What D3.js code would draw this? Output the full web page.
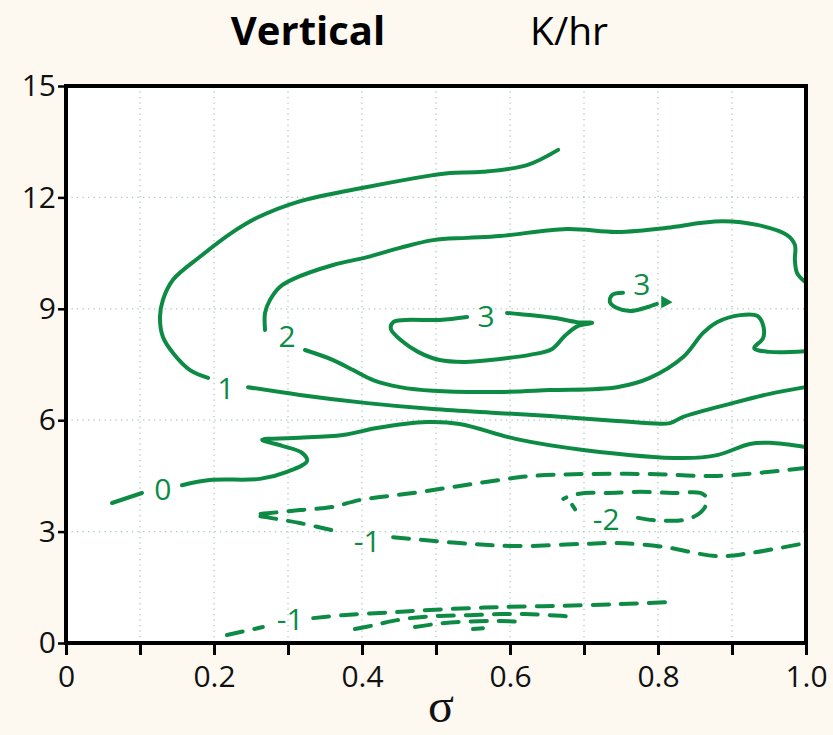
<!DOCTYPE html>
<html>
<head>
<meta charset="utf-8">
<script src="https://cdn.jsdelivr.net/npm/d3@7"></script>
<style>
  html, body { margin: 0; padding: 0; background: #fdf8f0; }
  svg { display: block; }
</style>
</head>
<body>
<svg id="chart" width="833" height="735"></svg>
<script>
// Axis ticks
const sigmaTicks = d3.range(11).map(i => i / 10);
const sigmaLabels = ["0", "", "0.2", "", "0.4", "", "0.6", "", "0.8", "", "1.0"];
const heightTicks = [0, 3, 6, 9, 12, 15];

// Contour lines, [sigma, height] pairs, split where a label interrupts the line
const contourOne = [
  [[0.665,13.28],[0.623,12.87],[0.5635,12.69],[0.519,12.66],[0.496,12.60],[0.407,12.28],
   [0.3135,11.88],[0.258,11.45],[0.2257,11.07],[0.181,10.40],[0.1446,9.78],[0.131,9.24],
   [0.127,8.78],[0.131,8.24],[0.1446,7.81],[0.1676,7.35],[0.192,7.14]],
  [[0.246,6.89],[0.316,6.68],[0.407,6.46],[0.496,6.30],[0.5865,6.19],[0.654,6.11],
   [0.7446,5.98],[0.789,5.92],[0.816,5.92],[0.834,6.09],[0.901,6.46],[0.951,6.71],[0.999,6.89]]
];
const contourTwo = [
  [[0.999,9.72],[0.988,9.96],[0.985,10.31],[0.985,10.72],[0.974,10.99],[0.934,11.26],
   [0.888,11.36],[0.857,11.31],[0.812,11.18],[0.7446,11.07],[0.677,11.15],[0.5865,10.96],
   [0.542,10.91],[0.496,10.85],[0.4514,10.64],[0.407,10.39],[0.361,10.18],[0.3068,9.80],
   [0.289,9.59],[0.2757,9.24],[0.269,8.89],[0.269,8.43]],
  [[0.323,7.89],[0.361,7.62],[0.388,7.35],[0.415,7.08],[0.4514,6.89],[0.496,6.79],
   [0.5865,6.76],[0.654,6.81],[0.7446,6.89],[0.789,7.14],[0.834,7.70],[0.861,8.35],
   [0.8797,8.64],[0.911,8.83],[0.934,8.81],[0.942,8.56],[0.942,8.21],[0.930,7.94],
   [0.951,7.84],[0.999,7.86]]
];
const contourThree = [
  [[0.596,8.89],[0.627,8.83],[0.661,8.75],[0.6905,8.64],[0.711,8.62],[0.692,8.54],
   [0.674,8.27],[0.657,7.92],[0.627,7.76],[0.5865,7.65],[0.539,7.57],[0.505,7.62],
   [0.4757,7.84],[0.454,8.13],[0.439,8.46],[0.442,8.64],[0.458,8.70],[0.505,8.70],[0.542,8.78]],
  [[0.7527,9.43],[0.738,9.37],[0.735,9.18],[0.7446,9.02],[0.762,8.94],[0.782,9.02],[0.7986,9.13]]
];
const contourThreeTip = [[0.8054,9.32],[0.8176,9.18],[0.8054,9.05]];
const contourZero = [
  [[0.0622,3.77],[0.1027,4.04]],
  [[0.1568,4.25],[0.1946,4.39],[0.262,4.42],[0.2986,4.61],[0.3257,4.90],[0.319,5.12],
   [0.292,5.31],[0.265,5.47],[0.307,5.52],[0.374,5.60],[0.420,5.79],[0.488,5.95],
   [0.532,5.90],[0.609,5.49],[0.699,5.20],[0.834,4.98],[0.880,5.06],[0.924,5.36],
   [0.951,5.39],[0.999,5.28]]
];
const contourMinusOne = [
  [[0.999,4.71],[0.880,4.50],[0.789,4.55],[0.699,4.55],[0.631,4.50],[0.5865,4.39],
   [0.532,4.23],[0.469,4.04],[0.397,3.85],[0.359,3.66],[0.316,3.58],[0.276,3.50],
   [0.255,3.45],[0.276,3.37],[0.316,3.23],[0.370,2.99]],
  [[0.442,2.85],[0.532,2.69],[0.609,2.61],[0.699,2.67],[0.7446,2.69],[0.807,2.59],
   [0.880,2.34],[0.924,2.42],[0.999,2.69]]
];
const contourMinusTwo = [
  [[0.773,3.37],[0.793,3.31],[0.812,3.29],[0.834,3.31],[0.853,3.45],[0.8635,3.66],
   [0.866,3.90],[0.857,4.04],[0.820,4.04],[0.7757,4.07],[0.731,4.04],[0.701,4.04],
   [0.681,3.96],[0.672,3.88]],
  [[0.684,3.72],[0.688,3.60]]
];
const contourLowMinusOne = [
  [[0.2176,0.215],[0.266,0.43]],
  [[0.334,0.67],[0.374,0.75],[0.442,0.83],[0.492,0.89],[0.546,0.94],[0.5905,0.97],
   [0.6676,1.00],[0.749,1.05],[0.8135,1.10]]
];
const contourLowMinusTwo = [
  [[0.3905,0.377],[0.4176,0.485],[0.4405,0.59],[0.465,0.67],[0.505,0.73],[0.546,0.75],
   [0.5865,0.78],[0.620,0.78],[0.654,0.75],[0.6905,0.70]]
];
const contourLowMinusThree = [
  [[0.4716,0.43],[0.505,0.525],[0.546,0.58],[0.5865,0.59],[0.620,0.565]]
];
const contourLowMinusFour = [
  [[0.55,0.377],[0.5635,0.40]]
];

const contourLevels = [1, 2, 3, 0, -1, -2, -1, -2, -3, -4];
const contourSegments = [contourOne, contourTwo, contourThree, contourZero, contourMinusOne,
  contourMinusTwo, contourLowMinusOne, contourLowMinusTwo, contourLowMinusThree, contourLowMinusFour];

// Inline contour labels
const labelText = ["1", "2", "3", "3", "0", "-1", "-2", "-1"];
const labelSigma = [0.216, 0.2986, 0.5676, 0.778, 0.131, 0.407, 0.730, 0.303];
const labelHeight = [6.89, 8.27, 8.81, 9.67, 4.15, 2.75, 3.34, 0.67];

const green = "#0d8b45";
const svg = d3.select("#chart");
const margin = { left: 66, right: 27, top: 86, bottom: 92 };
const W = 833, H = 735;

const x = d3.scaleLinear().domain([0, 1]).range([margin.left, W - margin.right]);
const y = d3.scaleLinear().domain([0, 15]).range([H - margin.bottom, margin.top]);

// Plot background
svg.append("rect")
  .attr("x", x(0)).attr("y", y(15))
  .attr("width", x(1) - x(0)).attr("height", y(0) - y(15))
  .attr("fill", "#ffffff");

// Dotted grid
const grid = svg.append("g").attr("stroke", "#a9c9bb").attr("stroke-width", 1.3)
  .attr("stroke-dasharray", "1.3,4.2");
grid.selectAll("line.v").data(sigmaTicks.filter(d => d > 0 && d < 1)).join("line")
  .attr("class", "v")
  .attr("x1", d => x(d)).attr("x2", d => x(d))
  .attr("y1", y(15)).attr("y2", y(0));
grid.selectAll("line.h").data(heightTicks.filter(d => d > 0 && d < 15)).join("line")
  .attr("class", "h")
  .attr("x1", x(0)).attr("x2", x(1))
  .attr("y1", d => y(d)).attr("y2", d => y(d));

// Contours
const line = d3.line()
  .x(d => x(d[0])).y(d => y(d[1]))
  .curve(d3.curveCatmullRom.alpha(0.5));

const cg = svg.append("g").attr("fill", "none").attr("stroke", green)
  .attr("stroke-width", 4).attr("stroke-linecap", "round").attr("stroke-linejoin", "round");

contourSegments.forEach((segs, i) => {
  const level = contourLevels[i];
  segs.forEach(seg => {
    cg.append("path")
      .attr("d", line(seg))
      .attr("stroke-dasharray", level < 0 ? "16,12" : null);
  });
});

svg.append("path")
  .attr("d", d3.line().x(d => x(d[0])).y(d => y(d[1])).curve(d3.curveLinearClosed)(contourThreeTip))
  .attr("fill", green).attr("stroke", green).attr("stroke-width", 1.5);

svg.append("g").selectAll("text").data(labelText).join("text")
  .attr("x", (d, i) => x(labelSigma[i]))
  .attr("y", (d, i) => y(labelHeight[i]))
  .attr("text-anchor", "middle")
  .attr("dominant-baseline", "central")
  .attr("font-family", "'Open Sans', 'Noto Sans', sans-serif")
  .attr("font-size", 30)
  .attr("fill", green)
  .text(d => d);

// Frame
svg.append("rect")
  .attr("x", x(0)).attr("y", y(15))
  .attr("width", x(1) - x(0)).attr("height", y(0) - y(15))
  .attr("fill", "none").attr("stroke", "#000").attr("stroke-width", 4);

// Axes
const tickFont = "'Open Sans', 'Noto Sans', sans-serif";
const xAxis = svg.append("g")
  .attr("transform", `translate(0,${y(0)})`)
  .call(d3.axisBottom(x).tickValues(sigmaTicks).tickSize(12)
    .tickFormat((d, i) => sigmaLabels[i]));
xAxis.select(".domain").remove();
xAxis.selectAll(".tick line").attr("stroke", "#000").attr("stroke-width", 3);
xAxis.selectAll(".tick text")
  .attr("y", 23).attr("dy", "0.71em")
  .attr("font-family", tickFont).attr("font-size", 30).attr("fill", "#111");

const yAxis = svg.append("g")
  .attr("transform", `translate(${x(0)},0)`)
  .call(d3.axisLeft(y).tickValues(heightTicks).tickSize(8).tickPadding(2));
yAxis.select(".domain").remove();
yAxis.selectAll(".tick line").attr("stroke", "#000").attr("stroke-width", 2.5);
yAxis.selectAll(".tick text")
  .attr("font-family", tickFont).attr("font-size", 30).attr("fill", "#111");

// Axis title
svg.append("text")
  .attr("x", 441).attr("y", 722)
  .attr("text-anchor", "middle")
  .attr("font-family", "'Liberation Serif', 'DejaVu Serif', serif")
  .attr("font-size", 48).attr("fill", "#111")
  .text("σ");

// Chart title and units
svg.append("text")
  .attr("x", 308).attr("y", 45)
  .attr("text-anchor", "middle")
  .attr("font-family", "'Open Sans', 'Noto Sans', sans-serif")
  .attr("font-weight", 700)
  .attr("font-size", 40).attr("fill", "#000")
  .text("Vertical");
svg.append("text")
  .attr("x", 530).attr("y", 45)
  .attr("font-family", "'Open Sans', 'Noto Sans', sans-serif")
  .attr("font-size", 39).attr("fill", "#000")
  .text("K/hr");
</script>
</body>
</html>
